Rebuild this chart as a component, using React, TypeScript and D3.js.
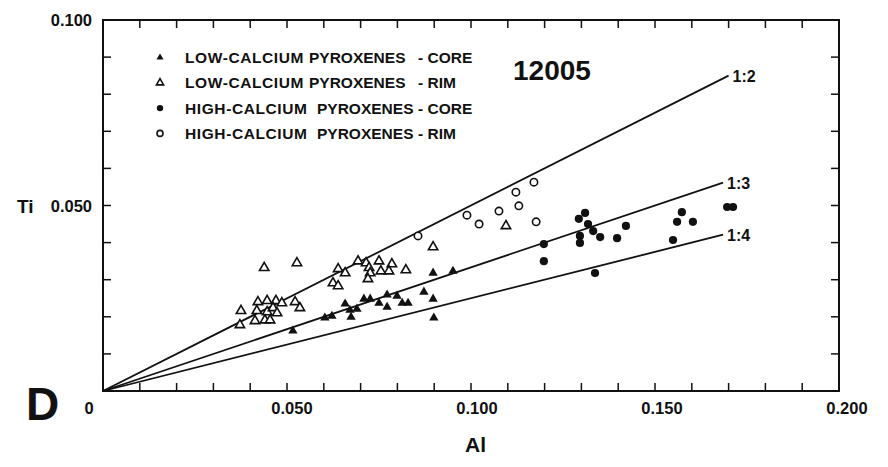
import React from "react";
import * as d3 from "d3";

// [Al, Ti]
const lowCaCore: [number, number][] = [
  [0.0516, 0.0162], [0.0603, 0.0197], [0.0622, 0.0202], [0.0658, 0.0235],
  [0.0671, 0.0218], [0.0674, 0.0199], [0.069, 0.0221], [0.0709, 0.0248],
  [0.0726, 0.0248], [0.075, 0.0237], [0.0772, 0.0259], [0.0772, 0.0226],
  [0.0799, 0.0256], [0.0813, 0.0237], [0.0829, 0.0237], [0.0872, 0.0267],
  [0.0897, 0.0248], [0.0897, 0.0318], [0.0951, 0.0323], [0.0899, 0.0197],
];
const lowCaRim: [number, number][] = [
  [0.0438, 0.0332], [0.0527, 0.0345], [0.0375, 0.0216], [0.0372, 0.0178],
  [0.0421, 0.024], [0.0446, 0.0243], [0.047, 0.0243], [0.0486, 0.0237],
  [0.0418, 0.0216], [0.0446, 0.0213], [0.0462, 0.0224], [0.0413, 0.0189],
  [0.044, 0.0191], [0.0454, 0.0191], [0.0473, 0.021], [0.0522, 0.024],
  [0.0535, 0.0224], [0.0639, 0.0329], [0.0658, 0.0318], [0.0693, 0.035],
  [0.0715, 0.0345], [0.075, 0.035], [0.0785, 0.0342], [0.0723, 0.0332],
  [0.0755, 0.0323], [0.0777, 0.0323], [0.0726, 0.0318], [0.072, 0.0302],
  [0.0823, 0.0326], [0.0625, 0.0291], [0.0639, 0.0283], [0.0897, 0.0388],
  [0.1095, 0.0445],
];
const highCaCore: [number, number][] = [
  [0.1198, 0.0396], [0.1198, 0.035], [0.131, 0.048], [0.1293, 0.0464],
  [0.1318, 0.045], [0.1332, 0.0431], [0.1351, 0.0415], [0.1296, 0.0418],
  [0.1296, 0.0399], [0.1397, 0.0412], [0.1421, 0.0445], [0.1337, 0.0318],
  [0.156, 0.0456], [0.1573, 0.0482], [0.1603, 0.0456], [0.1549, 0.0407],
  [0.1696, 0.0496], [0.1712, 0.0496],
];
const highCaRim: [number, number][] = [
  [0.0856, 0.0418], [0.0989, 0.0474], [0.1022, 0.045], [0.1076, 0.0485],
  [0.113, 0.0499], [0.1122, 0.0536], [0.1171, 0.0563], [0.1177, 0.0456],
];

const ratioLabels = ["1:2", "1:3", "1:4"];
const ratioDivisors = [2, 3, 4];
const ratioLineEnds = [0.17, 0.1685, 0.1685];

const xLabelValues = [0, 0.05, 0.1, 0.15, 0.2];
const xLabelTexts = ["0", "0.050", "0.100", "0.150", "0.200"];
const yLabelValues = [0.05, 0.1];
const yLabelTexts = ["0.050", "0.100"];

const legendPrefix = ["LOW-CALCIUM", "LOW-CALCIUM", "HIGH-CALCIUM", "HIGH-CALCIUM"];
const legendMiddle = ["PYROXENES", "PYROXENES", "PYROXENES", "PYROXENES"];
const legendSuffix = ["- CORE", "- RIM", "- CORE", "- RIM"];
const legendKinds = ["triFilled", "triOpen", "circFilled", "circOpen"];

const sampleName = "12005";
const panelLetter = "D";
const xTitle = "Al";
const yTitle = "Ti";

const FONT = "'Liberation Sans', Arial, Helvetica, sans-serif";

export default function App() {
  const W = 888;
  const H = 467;
  const x = d3.scaleLinear().domain([0, 0.2]).range([103, 839]);
  const y = d3.scaleLinear().domain([0, 0.1]).range([391, 20]);

  const xMinor = x.ticks(20);
  const yMinor = y.ticks(10);
  const tickLen = 8;

  const triPath = d3.symbol(d3.symbolTriangle, 38)() as string;
  const triLegend = d3.symbol(d3.symbolTriangle, 22)() as string;
  const circR = 3.7;

  const line = d3
    .line<[number, number]>()
    .x((d) => x(d[0]))
    .y((d) => y(d[1]));

  const renderMarker = (kind: string, cx: number, cy: number, key: string, legend = false) => {
    if (kind === "triFilled")
      return <path key={key} d={legend ? triLegend : triPath} transform={`translate(${cx},${cy})`} fill="#111" />;
    if (kind === "triOpen")
      return (
        <path key={key} d={legend ? triLegend : triPath} transform={`translate(${cx},${cy})`} fill="#fff" stroke="#111" strokeWidth={1.6} />
      );
    if (kind === "circFilled")
      return <circle key={key} cx={cx} cy={cy} r={legend ? 3.2 : circR + 0.4} fill="#111" />;
    return <circle key={key} cx={cx} cy={cy} r={legend ? 3 : circR} fill="#fff" stroke="#111" strokeWidth={1.6} />;
  };

  const series: { kind: string; data: [number, number][] }[] = [
    { kind: "triOpen", data: lowCaRim },
    { kind: "triFilled", data: lowCaCore },
    { kind: "circOpen", data: highCaRim },
    { kind: "circFilled", data: highCaCore },
  ];

  return (
    <div style={{ position: "fixed", left: 0, top: 0, width: W, height: H, background: "#fff" }}>
      <svg width={W} height={H} style={{ display: "block" }} fontFamily={FONT}>
        <rect x={0} y={0} width={W} height={H} fill="#fff" />

        {/* ratio lines */}
        {ratioDivisors.map((dv, i) => {
          const end = ratioLineEnds[i];
          return (
            <path
              key={"l" + i}
              d={line([[0, 0], [end, end / dv]]) as string}
              fill="none"
              stroke="#111"
              strokeWidth={1.8}
            />
          );
        })}
        {ratioLabels.map((lab, i) => {
          const end = ratioLineEnds[i];
          return (
            <text
              key={"rl" + i}
              x={x(end) + 4}
              y={y(end / ratioDivisors[i]) + 6}
              fontSize={16}
              fontWeight="bold"
              fill="#111"
            >
              {lab}
            </text>
          );
        })}

        {/* data */}
        {series.map((s, si) =>
          s.data.map((d, i) => renderMarker(s.kind, x(d[0]), y(d[1]), `m${si}-${i}`))
        )}

        {/* frame */}
        <rect x={x(0)} y={y(0.1)} width={x(0.2) - x(0)} height={y(0) - y(0.1)} fill="none" stroke="#111" strokeWidth={2} />
        {xMinor.map((v, i) => (
          <g key={"xt" + i}>
            <line x1={x(v)} x2={x(v)} y1={y(0)} y2={y(0) - tickLen} stroke="#111" strokeWidth={1.5} />
            <line x1={x(v)} x2={x(v)} y1={y(0.1)} y2={y(0.1) + tickLen} stroke="#111" strokeWidth={1.5} />
          </g>
        ))}
        {yMinor.map((v, i) => (
          <g key={"yt" + i}>
            <line x1={x(0)} x2={x(0) + tickLen} y1={y(v)} y2={y(v)} stroke="#111" strokeWidth={1.5} />
            <line x1={x(0.2)} x2={x(0.2) - tickLen} y1={y(v)} y2={y(v)} stroke="#111" strokeWidth={1.5} />
          </g>
        ))}

        {/* tick labels */}
        {xLabelValues.map((v, i) => (
          <text
            key={"xl" + i}
            x={v === 0 ? x(v) - 14 : x(v) + 4 + v * 20}
            y={414}
            textAnchor="middle"
            fontSize={16.5}
            fontWeight="bold"
            fill="#111"
          >
            {xLabelTexts[i]}
          </text>
        ))}
        {yLabelValues.map((v, i) => (
          <text
            key={"yl" + i}
            x={92}
            y={y(v) + 6}
            textAnchor="end"
            fontSize={16.5}
            fontWeight="bold"
            fill="#111"
          >
            {yLabelTexts[i]}
          </text>
        ))}

        {/* axis titles */}
        <text x={17} y={213} fontSize={19} fontWeight="bold" fill="#111">{yTitle}</text>
        <text x={465} y={452} fontSize={21} fontWeight="bold" fill="#111">{xTitle}</text>
        <text x={26} y={420} fontSize={46} fontWeight="bold" fill="#111">{panelLetter}</text>
        <text x={513} y={80} fontSize={28} fontWeight="bold" fill="#111">{sampleName}</text>

        {/* legend */}
        {legendPrefix.map((t, i) => {
          const cy = 57.5 + i * 25.3;
          const midX = i < 2 ? 309 : 317;
          return (
            <g key={"lg" + i}>
              {renderMarker(legendKinds[i], 160, cy, "lm" + i, true)}
              <text x={185} y={cy + 5.5} fontSize={15.5} fontWeight="bold" letterSpacing={0.6} fill="#111">{t}</text>
              <text x={midX} y={cy + 5.5} fontSize={15.5} fontWeight="bold" fill="#111">{legendMiddle[i]}</text>
              <text x={418} y={cy + 5.5} fontSize={15.5} fontWeight="bold" fill="#111">{legendSuffix[i]}</text>
            </g>
          );
        })}
      </svg>
    </div>
  );
}
